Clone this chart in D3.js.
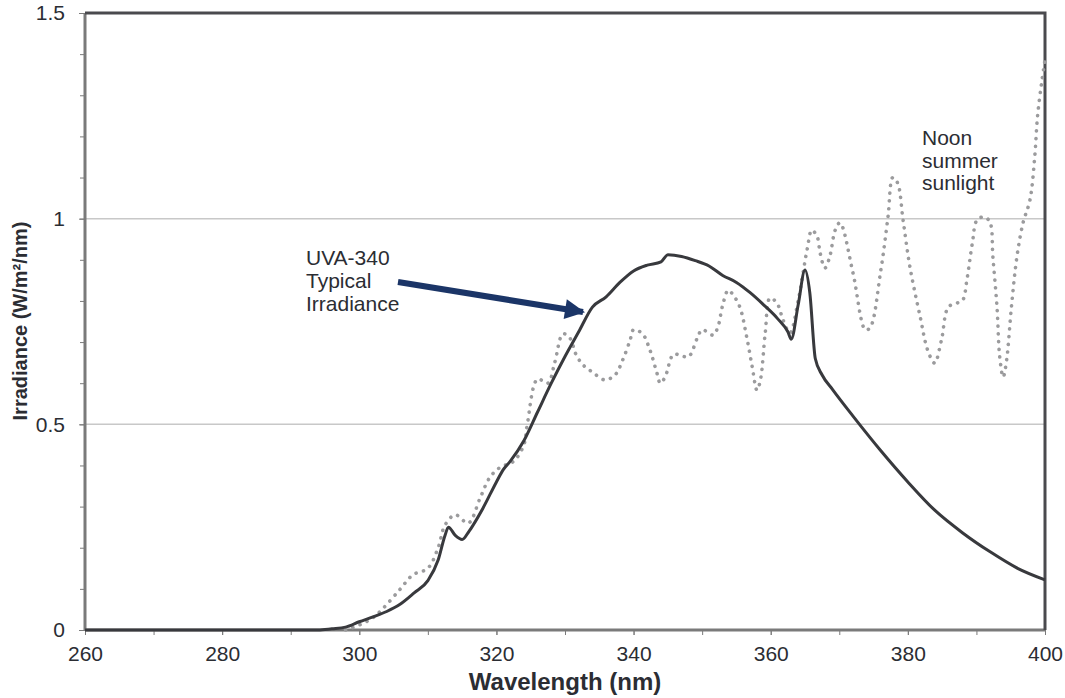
<!DOCTYPE html>
<html>
<head>
<meta charset="utf-8">
<style>
body { margin: 0; background: #fff; }
#chart text { font-family: "Liberation Sans", Arial, sans-serif; fill: #2b2d33; }
.axis path, .axis line { stroke: #7a7a7a; }
.axis text { font-size: 21px; }
</style>
<script src="https://cdn.jsdelivr.net/npm/d3@7/dist/d3.min.js"></script>
</head>
<body>
<svg id="chart" width="1065" height="698"></svg>
<script>

// UVA-340 lamp, typical irradiance (solid)
var uvaNm = [260, 270, 280, 290, 294, 296, 298, 300, 302, 304, 306, 308, 310, 311.5, 312.5, 313,
	314, 315, 316, 318, 320, 321, 322, 324, 326, 328, 330, 332, 334, 336, 338, 340, 342, 344,
	345, 347, 349, 351, 353, 355, 357, 359, 361, 362.5, 363, 364, 365, 365.7, 366.5, 367.5,
	369, 372, 376, 380, 384, 388, 392, 396, 400];
var uvaVal = [0, 0, 0, 0, 0, 0.003, 0.007, 0.02, 0.032, 0.045, 0.063, 0.09, 0.12, 0.17, 0.23, 0.25,
	0.23, 0.22, 0.24, 0.295, 0.36, 0.39, 0.41, 0.46, 0.53, 0.60, 0.665, 0.725, 0.785, 0.81, 0.845, 0.873, 0.887, 0.895,
	0.912, 0.908, 0.898, 0.885, 0.862, 0.845, 0.82, 0.79, 0.757, 0.725, 0.707, 0.79, 0.875, 0.82, 0.66, 0.62,
	0.585, 0.52, 0.437, 0.36, 0.29, 0.236, 0.19, 0.15, 0.122];

// noon summer sunlight (dotted)
var sunNm = [298, 300, 302, 303.5, 306, 307.8, 310, 311.5, 312.5, 314, 315.9, 317.6, 319, 320.5, 322.5,
	324, 324.5, 326, 327.5, 328.5, 329.7, 330.7, 331.6, 332.6, 334, 335.8, 337.3, 338.4, 339.5, 340,
	341.3, 342.4, 343.4, 343.9, 344.6, 345.8, 346.8, 348, 349.3, 350, 351.6, 352.3, 353, 353.8, 354.5,
	355.5, 356.5, 357.3, 358, 358.5, 359.2, 359.9, 360.9, 361.8, 362.8, 364, 365.3, 366, 366.8, 367.2,
	367.9, 368.6, 369.4, 370.1, 372, 373.8, 374.5, 376, 377.1, 377.8, 378.5, 379.3, 380.3, 381.8, 382.9,
	383.9, 384.9, 385.9, 387.2, 388, 388.6, 389.4, 390.1, 391.2, 392, 392.4, 393, 393.4, 393.9, 394.4,
	395.1, 395.9, 396.8, 397.8, 398.5, 398.9, 399.5, 400];
var sunVal = [0, 0.012, 0.03, 0.053, 0.1, 0.134, 0.15, 0.2, 0.255, 0.28, 0.26, 0.32, 0.37, 0.395, 0.41,
	0.45, 0.5, 0.61, 0.6, 0.65, 0.72, 0.71, 0.67, 0.645, 0.627, 0.608, 0.62, 0.656, 0.705, 0.73,
	0.72, 0.68, 0.625, 0.60, 0.615, 0.67, 0.668, 0.664, 0.71, 0.73, 0.717, 0.737, 0.79, 0.826, 0.815,
	0.785, 0.712, 0.64, 0.583, 0.608, 0.722, 0.807, 0.795, 0.754, 0.722, 0.80, 0.924, 0.972, 0.955, 0.917,
	0.88, 0.907, 0.972, 0.99, 0.868, 0.73, 0.735, 0.868, 1.004, 1.10, 1.087, 0.997, 0.883, 0.761, 0.68,
	0.649, 0.705, 0.785, 0.795, 0.802, 0.85, 0.94, 0.997, 1.004, 0.99, 0.907, 0.785, 0.664, 0.615, 0.656,
	0.785, 0.907, 0.99, 1.045, 1.15, 1.247, 1.33, 1.386];

var xTicks = [260, 280, 300, 320, 340, 360, 380, 400];
var yTicks = [0, 0.5, 1, 1.5];
var yTickLabels = ["0", "0.5", "1", "1.5"];

var svg = d3.select("#chart"),
	margin = {top: 13, right: 20, bottom: 68, left: 85},
	width = +svg.attr("width") - margin.left - margin.right,
	height = +svg.attr("height") - margin.top - margin.bottom,
	g = svg.append("g").attr("transform", "translate(" + margin.left + "," + margin.top + ")");

var x = d3.scaleLinear().domain([260, 400]).range([0, width]);
var y = d3.scaleLinear().domain([0, 1.5]).range([height, 0]);

// gridlines at 0.5 and 1
g.append("g")
	.selectAll("line")
	.data([0.5, 1])
	.enter().append("line")
		.attr("x1", 0)
		.attr("x2", width)
		.attr("y1", function(d) { return y(d); })
		.attr("y2", function(d) { return y(d); })
		.attr("stroke", "#c8c8c8")
		.attr("stroke-width", 1.5);

// minor ticks (every 0.1 / every 10 nm)
g.append("g")
	.attr("class", "axis")
	.call(d3.axisLeft(y).ticks(15).tickSize(5).tickFormat(""))
	.call(function(a) { a.select(".domain").remove(); });

g.append("g")
	.attr("class", "axis")
	.attr("transform", "translate(0," + height + ")")
	.call(d3.axisBottom(x).ticks(14).tickSize(5).tickFormat(""))
	.call(function(a) { a.select(".domain").remove(); });

// labelled axes
var yAxis = g.append("g")
	.attr("class", "axis")
	.call(d3.axisLeft(y).tickValues(yTicks).tickSize(6).tickPadding(14)
		.tickFormat(function(d, i) { return yTickLabels[i]; }));
yAxis.select(".domain").attr("stroke-width", 3).attr("d", "M0," + height + "V0");

var xAxis = g.append("g")
	.attr("class", "axis")
	.attr("transform", "translate(0," + height + ")")
	.call(d3.axisBottom(x).tickValues(xTicks).tickSize(5).tickPadding(11));
xAxis.select(".domain").attr("stroke-width", 3).attr("d", "M0,0H" + width);

// dark top and right border
g.append("path")
	.attr("d", "M0,0H" + width + "V" + height)
	.attr("fill", "none")
	.attr("stroke", "#4a4a4e")
	.attr("stroke-width", 3);

// noon sunlight, dotted
var sunLine = d3.line()
	.x(function(d, i) { return x(sunNm[i]); })
	.y(function(d) { return y(d); })
	.curve(d3.curveCatmullRom.alpha(0.5));

g.append("path")
	.datum(sunVal)
	.attr("fill", "none")
	.attr("stroke", "#9b9b9d")
	.attr("stroke-width", 3.6)
	.attr("stroke-linecap", "round")
	.attr("stroke-dasharray", "0.1,7.6")
	.attr("d", sunLine);

// UVA-340, solid
var uvaLine = d3.line()
	.x(function(d, i) { return x(uvaNm[i]); })
	.y(function(d) { return y(d); })
	.curve(d3.curveMonotoneX);

g.append("path")
	.datum(uvaVal)
	.attr("fill", "none")
	.attr("stroke", "#38393d")
	.attr("stroke-width", 3)
	.attr("stroke-linejoin", "round")
	.attr("d", uvaLine);

// annotations
svg.append("defs").append("marker")
	.attr("id", "head")
	.attr("viewBox", "0 0 10 10")
	.attr("refX", 9)
	.attr("refY", 5)
	.attr("markerUnits", "userSpaceOnUse")
	.attr("markerWidth", 26)
	.attr("markerHeight", 20)
	.attr("orient", "auto")
	.append("path")
		.attr("d", "M0,0L10,5L0,10Z")
		.attr("fill", "#1b3567");

svg.append("line")
	.attr("x1", 398).attr("y1", 282)
	.attr("x2", 583).attr("y2", 312)
	.attr("stroke", "#1b3567")
	.attr("stroke-width", 6)
	.attr("marker-end", "url(#head)");

var note1 = svg.append("text").attr("x", 306).attr("y", 265).attr("font-size", "21px");
["UVA-340", "Typical", "Irradiance"].forEach(function(t, i) {
	note1.append("tspan").attr("x", 306).attr("dy", i ? 23 : 0).text(t);
});

var note2 = svg.append("text").attr("x", 922).attr("y", 145).attr("font-size", "21px");
["Noon", "summer", "sunlight"].forEach(function(t, i) {
	note2.append("tspan").attr("x", 922).attr("dy", i ? 22.5 : 0).text(t);
});

// axis titles
svg.append("text")
	.attr("x", margin.left + width / 2)
	.attr("y", 690)
	.attr("text-anchor", "middle")
	.attr("font-size", "24px")
	.attr("font-weight", "bold")
	.text("Wavelength (nm)");

svg.append("text")
	.attr("transform", "translate(27,321) rotate(-90)")
	.attr("text-anchor", "middle")
	.attr("font-size", "20px")
	.attr("font-weight", "bold")
	.text("Irradiance (W/m²/nm)");

</script>
</body>
</html>
